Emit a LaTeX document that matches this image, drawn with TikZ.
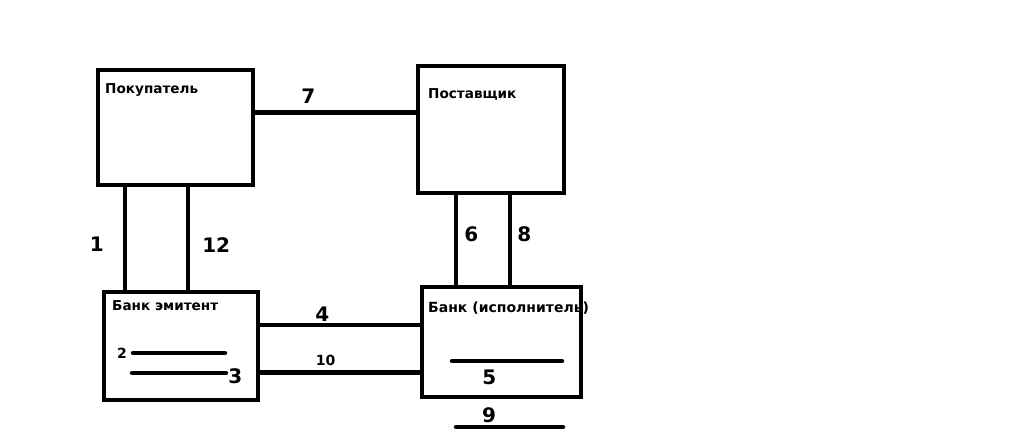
\documentclass[tikz,border=0pt]{standalone}
\usepackage{fontspec}
\setmainfont{DejaVu Sans}
\begin{document}
\begin{tikzpicture}[x=1pt,y=-1pt]
        \tikzstyle{party}=[rectangle,draw=black,line width=4.5pt,inner sep=0pt]
        \tikzstyle{title}=[anchor=base west,inner sep=0pt,font=\fontsize{13.6}{15}\selectfont\bfseries]
        \tikzstyle{num}=[inner sep=0pt,font=\fontsize{20}{22}\selectfont\bfseries]
        \tikzstyle{smallnum}=[inner sep=0pt,font=\fontsize{14}{16}\selectfont\bfseries]
        \tikzstyle{edge}=[draw, line width=4.5pt]
        \tikzstyle{stroke}=[draw, line width=4.5pt, line cap=round]
       \useasboundingbox (0,0) rectangle (1018,439);
       \begin{scope}
         \node [party,minimum width=155pt,minimum height=115pt] (buyer) at (175.5,127.5) {};
         \node [party,minimum width=146pt,minimum height=127pt] (supp) at (491,129.5) {};
         \node [party,minimum width=154pt,minimum height=108pt] (emit) at (181,346) {};
         \node [party,minimum width=159pt,minimum height=110pt] (exec) at (501.5,342) {};

         \node [title] (buyertxt) at (105,93) {Покупатель};
         \node [title] (supptxt) at (428,98) {Поставщик};
         \node [title] (emittxt) at (112,310) {Банк эмитент};
         \node [title,font=\fontsize{14}{15}\selectfont\bfseries] (exectxt) at (428,312) {Банк (исполнитель)};

         \coordinate (x1) at (125,0);
         \coordinate (x12) at (188,0);
         \coordinate (x6) at (456,0);
         \coordinate (x8) at (510,0);
         \coordinate (y7) at (0,112.5);
         \coordinate (y4) at (0,325);
         \coordinate (y10) at (0,372.5);
         \coordinate (e2a) at (133,353);
         \coordinate (e2b) at (225,353);
         \coordinate (e3a) at (132,373);
         \coordinate (e3b) at (226,373);
         \coordinate (e5a) at (452,361);
         \coordinate (e5b) at (562,361);
         \coordinate (e9a) at (456,427);
         \coordinate (e9b) at (563,427);

         \path[edge] (buyer.east |- y7) edge node[num,pos=0.33,above=7pt] {7} (supp.west |- y7);
         \path[edge] (buyer.south -| x1) edge node[num,pos=0.56,left=19pt] {1} (emit.north -| x1);
         \path[edge] (buyer.south -| x12) edge node[num,pos=0.56,right=12pt] {12} (emit.north -| x12);
         \path[edge] (supp.south -| x6) edge node[num,pos=0.44,right=6pt] {6} (exec.north -| x6);
         \path[edge] (supp.south -| x8) edge node[num,pos=0.44,right=5pt] {8} (exec.north -| x8);
         \path[edge] (emit.east |- y4) edge node[num,pos=0.39,above=1pt] {4} (exec.west |- y4);
         \path[edge] (emit.east |- y10) edge node[smallnum,pos=0.41,above=5pt] {10} (exec.west |- y10);

         \path[stroke] (e2a) edge node[smallnum,at start,left=4pt] {2} (e2b);
         \path[stroke] (e3a) edge node[num,at end,right=0pt,yshift=-3pt] {3} (e3b);
         \path[stroke] (e5a) edge node[num,pos=0.34,below=7pt] {5} (e5b);
         \path[stroke] (e9a) edge node[num,pos=0.31,above=2pt] {9} (e9b);
        \end{scope}
      \end{tikzpicture}
\end{document}
